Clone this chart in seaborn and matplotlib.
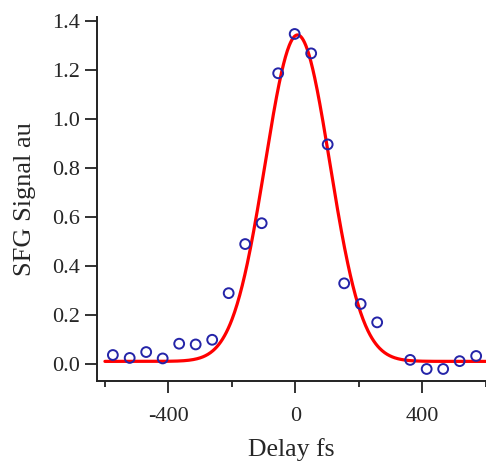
import numpy as np
import pandas as pd
import matplotlib
matplotlib.use('Agg')
import matplotlib.pyplot as plt
import seaborn as sns
from matplotlib.ticker import MultipleLocator

# ── Data ──────────────────────────────────────────────
delay_fs = [-575, -522, -470, -418, -366, -314, -262, -210, -158, -106,
            -54, -2, 50, 102, 154, 206, 258, 362, 414, 466, 518, 570]
signal_au = [0.038, 0.026, 0.050, 0.024, 0.084, 0.081, 0.100, 0.290, 0.490, 0.575,
             1.186, 1.346, 1.267, 0.896, 0.330, 0.246, 0.171, 0.018, -0.019, -0.019,
             0.013, 0.034]

# Gaussian fit parameters
fit_base = 0.012
fit_amp = 1.330
fit_x0 = 7.0
fit_sigma = 102.0
fit_range = (-600, 600)

df = pd.DataFrame({'delay': delay_fs, 'signal': signal_au})
fit_x = np.linspace(fit_range[0], fit_range[1], 600)
fit_y = fit_base + fit_amp * np.exp(-(fit_x - fit_x0) ** 2 / (2 * fit_sigma ** 2))
fit_df = pd.DataFrame({'delay': fit_x, 'signal': fit_y})

# ── Plot ──────────────────────────────────────────────
sns.set_style('ticks')
plt.rcParams['font.family'] = ['Liberation Serif', 'DejaVu Serif']

fig = plt.figure(figsize=(4.86, 4.61), dpi=100)
ax = fig.add_axes([0.1996, 0.1735, 0.8004, 0.789])

sns.lineplot(data=fit_df, x='delay', y='signal', color='#ff0000',
             linewidth=2.3, ax=ax, zorder=2)
sns.scatterplot(data=df, x='delay', y='signal', ax=ax, zorder=3,
                marker='o', s=50, facecolor='none', edgecolor='#2424a8',
                linewidth=1.4)

ax.set_xlim(-625, 601)
ax.set_ylim(-0.068, 1.414)

ax.xaxis.set_major_locator(MultipleLocator(400))
ax.xaxis.set_minor_locator(MultipleLocator(200))
ax.yaxis.set_major_locator(MultipleLocator(0.2))
ax.yaxis.set_major_formatter(matplotlib.ticker.FormatStrFormatter('%.1f'))
ax.xaxis.set_major_formatter(matplotlib.ticker.FuncFormatter(lambda v, p: f'{int(v)}'))

for s in ['top', 'right']:
    ax.spines[s].set_visible(False)
for s in ['left', 'bottom']:
    ax.spines[s].set_linewidth(1.4)
    ax.spines[s].set_color('#222222')

ax.tick_params(axis='both', which='major', length=8.5, width=1.3,
               labelsize=16, pad=4, color='#222222')
ax.tick_params(axis='x', which='minor', length=4.5, width=1.3, color='#222222')
ax.tick_params(axis='x', which='major', pad=10)

ax.set_xlabel('Delay fs', fontsize=18.5, labelpad=9)
ax.set_ylabel('SFG Signal au', fontsize=19, labelpad=11)

fig.savefig('out.png', dpi=100)
